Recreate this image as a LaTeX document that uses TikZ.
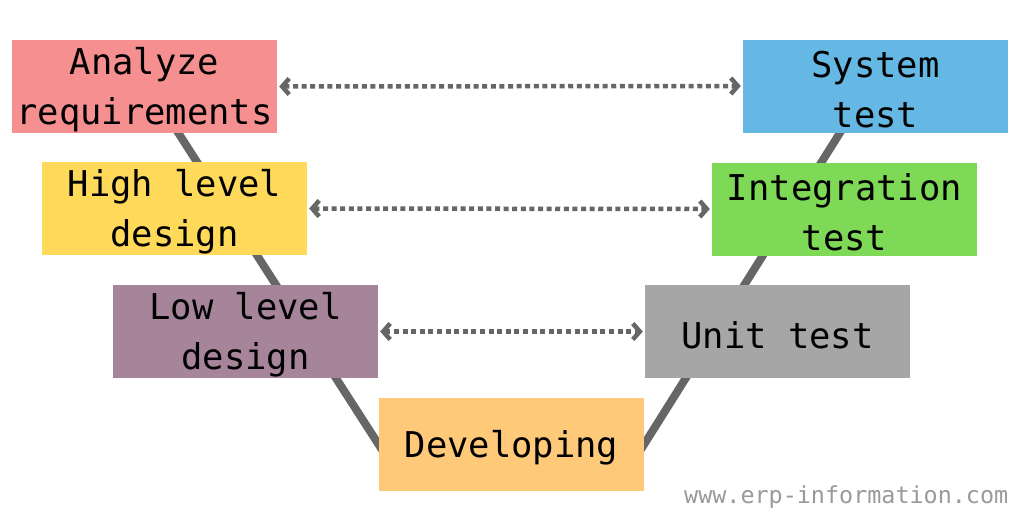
\documentclass[tikz,border=0pt]{standalone}
\usepackage{fontspec}
\setmainfont{DejaVu Sans Mono}
\usetikzlibrary{arrows.meta}
\definecolor{cA}{HTML}{F68F8F}
\definecolor{cS}{HTML}{65B8E4}
\definecolor{cH}{HTML}{FFD95A}
\definecolor{cI}{HTML}{7ED957}
\definecolor{cL}{HTML}{A6859A}
\definecolor{cU}{HTML}{A6A6A6}
\definecolor{cD}{HTML}{FFC97A}
\definecolor{lineg}{HTML}{666666}
\definecolor{wm}{HTML}{9A9A9A}
\newcommand{\lowtxt}[1]{\raisebox{-3.5pt}[\height][\depth]{#1}}
\tikzset{
  stage/.style={fill=#1, draw=none, minimum width=265pt, minimum height=93pt,
    inner sep=0pt, align=center, font=\fontsize{35.5}{50}\selectfont, text=black},
  vline/.style={draw=lineg, line width=8pt},
  link/.style={draw=lineg, line width=4.5pt, dash pattern=on 5pt off 3.6pt,
    {Straight Barb[length=7pt,width=16pt,line width=4.5pt]}-{Straight Barb[length=7pt,width=16pt,line width=4.5pt]},
    shorten <=2pt, shorten >=2pt}
}
\begin{document}
\begin{tikzpicture}[x=1pt,y=-1pt]
\useasboundingbox[fill=white] (0,0) rectangle (1024,512);
\coordinate (l1) at (170,120);
\coordinate (l2) at (395,470);
\coordinate (r1) at (848,120);
\coordinate (r2) at (628,470);
\draw[vline] (l1) -- (l2);
\draw[vline] (r1) -- (r2);
\node[stage=cA] (A) at (144.5,86.5) {\lowtxt{Analyze}\\\lowtxt{requirements}};
\node[stage=cS] (S) at (875.5,86) {\lowtxt{System}\\\lowtxt{test}};
\node[stage=cH] (H) at (174.5,208.5) {\lowtxt{High level}\\\lowtxt{design}};
\node[stage=cI] (I) at (844.5,209) {\lowtxt{Integration}\\\lowtxt{test}};
\node[stage=cL] (L) at (245.5,331.5) {\lowtxt{Low level}\\\lowtxt{design}};
\node[stage=cU] (U) at (777.5,331.5) {\lowtxt{Unit test}};
\node[stage=cD] (D) at (511.5,444.5) {\lowtxt{Developing}};
\draw[link] (A.east) -- (S.west);
\draw[link] (H.east) -- (I.west);
\draw[link] (L.east) -- (U.west);
\node[anchor=west, inner sep=0pt, text=wm, font=\fontsize{23.4}{28}\selectfont] (W) at (684,497) {www.erp-information.com};
\end{tikzpicture}
\end{document}
